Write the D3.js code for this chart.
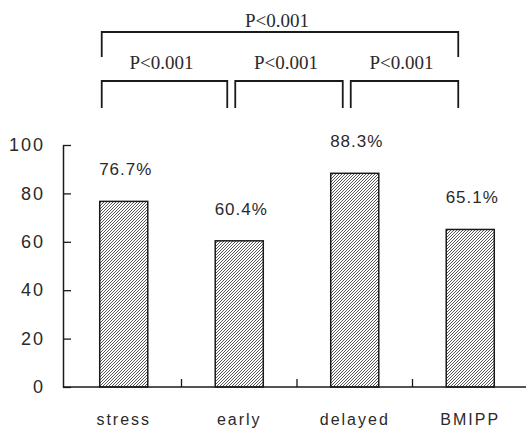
<!DOCTYPE html>
<html>
<head>
<meta charset="utf-8">
<script src="https://cdn.jsdelivr.net/npm/d3@7"></script>
<style>
  html, body { margin: 0; padding: 0; background: #fff; }
  svg { display: block; }
</style>
</head>
<body>
<svg id="chart" width="526" height="430"></svg>
<script>
// Detection rates by imaging method (%)
const categories = ["stress", "early", "delayed", "BMIPP"];
const values = [76.7, 60.4, 88.3, 65.1];
const yTicks = [0, 20, 40, 60, 80, 100];

// Pairwise comparisons drawn as brackets above the bars
const comparisons = [
  { from: "stress", to: "early", label: "P<0.001", level: 0 },
  { from: "early", to: "delayed", label: "P<0.001", level: 0 },
  { from: "delayed", to: "BMIPP", label: "P<0.001", level: 0 },
  { from: "stress", to: "BMIPP", label: "P<0.001", level: 1 }
];

const svg = d3.select("#chart");
const ink = "#1a1a1a";
const textInk = "#2a2a2a";

const x = d3.scaleBand()
  .domain(categories)
  .range([66, 528])
  .paddingInner(0.584)
  .paddingOuter(0.292);

const y = d3.scaleLinear()
  .domain([0, 100])
  .range([387, 145]);

// Fine diagonal hatch fill for the bars
const defs = svg.append("defs");
defs.append("pattern")
  .attr("id", "hatch")
  .attr("patternUnits", "userSpaceOnUse")
  .attr("width", 3)
  .attr("height", 3)
  .append("path")
  .attr("d", "M-1,1 L1,-1 M0,3 L3,0 M2,4 L4,2")
  .attr("stroke", "#3a3a3a")
  .attr("stroke-width", 0.85);

// Y axis with inward ticks
const yAxis = d3.axisLeft(y)
  .tickValues(yTicks)
  .tickSizeInner(-8)
  .tickSizeOuter(0)
  .tickPadding(20);

const gy = svg.append("g")
  .attr("transform", "translate(63,0)")
  .call(yAxis);
gy.select(".domain").attr("stroke", ink).attr("stroke-width", 1.5);
gy.selectAll(".tick line").attr("stroke", ink).attr("stroke-width", 1.3);
gy.selectAll(".tick text")
  .attr("fill", textInk)
  .style("font-family", "'Liberation Sans', Arial, sans-serif")
  .style("font-size", "18px")
  .style("letter-spacing", "2px")
  .attr("dx", "2px");

// Baseline and category separators
svg.append("line")
  .attr("x1", 63).attr("x2", 526)
  .attr("y1", y(0)).attr("y2", y(0))
  .attr("stroke", ink).attr("stroke-width", 1.5);

const half = x.step() * x.paddingInner() / 2;
svg.append("g")
  .selectAll("line")
  .data(categories.slice(0, -1))
  .join("line")
  .attr("x1", d => x(d) + x.bandwidth() + half)
  .attr("x2", d => x(d) + x.bandwidth() + half)
  .attr("y1", y(0))
  .attr("y2", y(0) - 8)
  .attr("stroke", ink)
  .attr("stroke-width", 1.3);

// Category labels
const gx = svg.append("g")
  .attr("transform", `translate(0,${y(0)})`)
  .call(d3.axisBottom(x).tickSize(0).tickPadding(27));
gx.select(".domain").remove();
gx.selectAll(".tick text")
  .attr("fill", textInk)
  .style("font-family", "'Liberation Sans', Arial, sans-serif")
  .style("font-size", "16px")
  .style("letter-spacing", "2px");

// Bars
svg.append("g")
  .selectAll("rect")
  .data(categories)
  .join("rect")
  .attr("x", d => x(d))
  .attr("width", x.bandwidth())
  .attr("y", (d, i) => y(values[i]))
  .attr("height", (d, i) => y(0) - y(values[i]))
  .attr("fill", "url(#hatch)")
  .attr("stroke", ink)
  .attr("stroke-width", 1.5);

// Value labels above each bar
svg.append("g")
  .selectAll("text")
  .data(categories)
  .join("text")
  .attr("x", d => x(d) + x.bandwidth() / 2 + 2)
  .attr("y", (d, i) => y(values[i]) - 26)
  .attr("text-anchor", "middle")
  .attr("fill", textInk)
  .style("font-family", "'Liberation Sans', Arial, sans-serif")
  .style("font-size", "17px")
  .style("letter-spacing", "1px")
  .text((d, i) => values[i].toFixed(1) + "%");

// Significance brackets
const mid = c => x(c) + x.bandwidth() / 2;
const bracketLeft = (c, i) => (i === 0 ? x(c) + 2 : mid(c) - 4);
const bracketRight = c => mid(c) - 12;
const levelY = [81, 32];
const levelDrop = [27, 25];
const labelY = [69, 27];

const gb = svg.append("g");
comparisons.forEach(c => {
  const i0 = categories.indexOf(c.from);
  const x0 = bracketLeft(c.from, i0);
  const x1 = bracketRight(c.to);
  const yy = levelY[c.level];
  gb.append("path")
    .attr("d", `M${x0},${yy + levelDrop[c.level]} V${yy} H${x1} V${yy + levelDrop[c.level]}`)
    .attr("fill", "none")
    .attr("stroke", ink)
    .attr("stroke-width", 1.8);
  gb.append("text")
    .attr("x", (x0 + x1) / 2 - 3)
    .attr("y", labelY[c.level])
    .attr("text-anchor", "middle")
    .attr("fill", textInk)
    .style("font-family", "'Liberation Serif', 'Times New Roman', serif")
    .style("font-size", "19px")
    .text(c.label);
});
</script>
</body>
</html>
